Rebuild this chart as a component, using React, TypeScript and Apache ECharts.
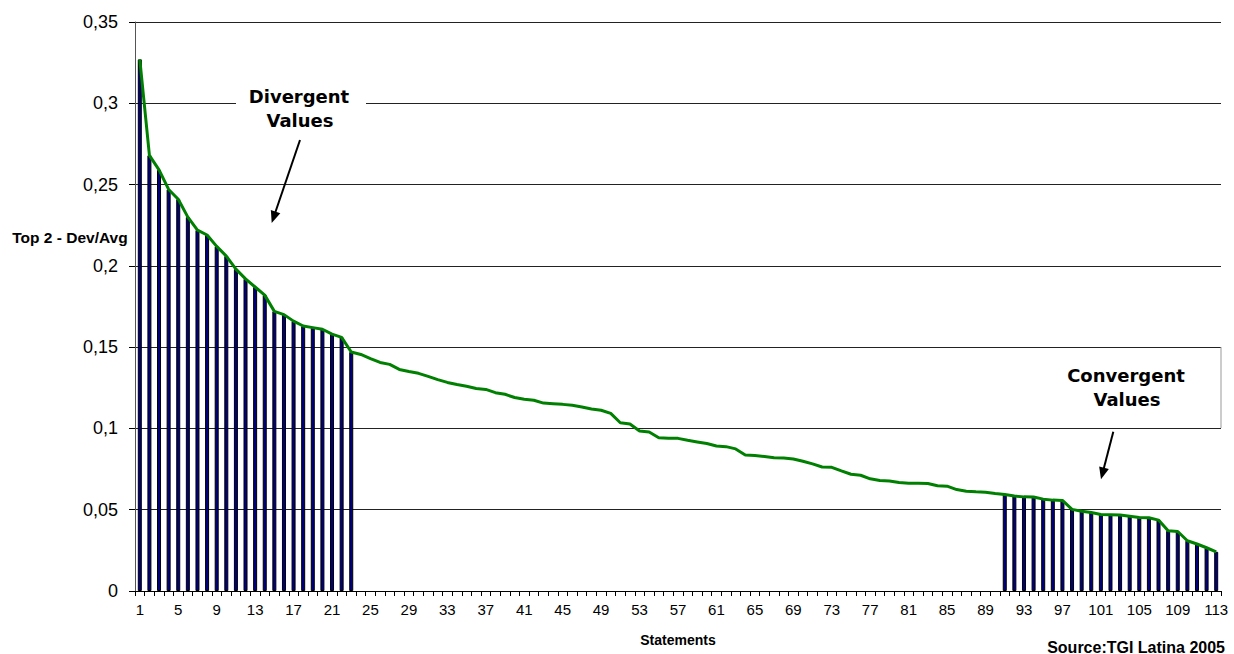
import React, { useEffect, useRef } from "react";
import * as echarts from "echarts";

// Statement numbers 1..113 (category labels)
const statements: string[] = Array.from({ length: 113 }, (_, i) => String(i + 1));

// Top 2 - Dev/Avg per statement (sorted descending)
const devAvg: number[] = [
  0.327, 0.268, 0.259, 0.247, 0.241, 0.230, 0.222, 0.219, 0.212, 0.206,
  0.198, 0.192, 0.187, 0.182, 0.172, 0.170, 0.166, 0.163, 0.162, 0.161,
  0.158, 0.156, 0.147, 0.1455, 0.143, 0.1406, 0.1394, 0.1363, 0.135, 0.1339,
  0.132, 0.130, 0.1283, 0.127, 0.1259, 0.1246, 0.124, 0.122, 0.121, 0.119,
  0.1179, 0.1173, 0.1156, 0.1152, 0.1148, 0.1142, 0.1132, 0.112, 0.1112, 0.1093,
  0.1035, 0.1027, 0.0984, 0.0978, 0.0943, 0.094, 0.0939, 0.0927, 0.0917, 0.0907,
  0.0892, 0.0888, 0.0874, 0.0837, 0.0833, 0.0827, 0.082, 0.0818, 0.0812, 0.0798,
  0.0782, 0.0763, 0.0761, 0.0739, 0.0718, 0.0712, 0.069, 0.068, 0.0677, 0.0667,
  0.0663, 0.0663, 0.0661, 0.0647, 0.0645, 0.0624, 0.0614, 0.061, 0.0608, 0.060,
  0.0594, 0.0584, 0.0579, 0.0578, 0.0565, 0.0559, 0.0557, 0.0502, 0.0491, 0.0483,
  0.0471, 0.0469, 0.0467, 0.046, 0.0452, 0.0451, 0.0436, 0.037, 0.0366, 0.0309,
  0.0289, 0.0266, 0.0241,
];

// Statements highlighted with bars
const divergentLast = 23; // statements 1..23
const convergentFirst = 91; // statements 91..113

const yTicks = { min: 0, max: 0.35, interval: 0.05 };

function arrow(tx: number, ty: number, hx: number, hy: number) {
  const dx = hx - tx;
  const dy = hy - ty;
  const len = Math.sqrt(dx * dx + dy * dy);
  const ux = dx / len;
  const uy = dy / len;
  const headLen = 12;
  const half = 5;
  const bx = hx - ux * headLen;
  const by = hy - uy * headLen;
  const px = -uy * half;
  const py = ux * half;
  return [
    {
      type: "line",
      z: 100,
      shape: { x1: tx, y1: ty, x2: bx + ux * 2, y2: by + uy * 2 },
      style: { stroke: "#000", lineWidth: 2 },
    },
    {
      type: "polygon",
      z: 100,
      shape: {
        points: [
          [hx, hy],
          [bx + px, by + py],
          [bx - px, by - py],
        ],
      },
      style: { fill: "#000" },
    },
  ];
}

export default function App() {
  const ref = useRef<HTMLDivElement>(null);
  useEffect(() => {
    if (!ref.current) return;
    const chart = echarts.init(ref.current, undefined, { renderer: "svg" });
    const barData = devAvg.map((v, i) =>
      i + 1 <= divergentLast || i + 1 >= convergentFirst ? v : null
    );
    const annFont = "DejaVu Sans";
    chart.setOption({
      animation: false,
      backgroundColor: "#fff",
      grid: { left: 135, right: 13, top: 22, bottom: 63, containLabel: false },
      xAxis: {
        type: "category",
        data: statements,
        boundaryGap: true,
        axisLine: { lineStyle: { color: "#000", width: 1 } },
        axisTick: { show: true, interval: 0, length: 5, lineStyle: { color: "#000" } },
        axisLabel: {
          interval: 3,
          color: "#000",
          fontFamily: "Liberation Sans",
          fontSize: 15,
          margin: 11,
        },
        splitLine: { show: false },
      },
      yAxis: {
        type: "value",
        min: yTicks.min,
        max: yTicks.max,
        interval: yTicks.interval,
        axisLine: { show: true, lineStyle: { color: "#555", width: 1 } },
        axisTick: { show: true, length: 6, lineStyle: { color: "#000" } },
        axisLabel: {
          color: "#000",
          fontFamily: "Liberation Sans",
          fontSize: 18,
          margin: 17,
          formatter: (v: number) => String(Number(v.toFixed(2))).replace(".", ","),
        },
        splitLine: { show: true, lineStyle: { color: "#222", width: 1 } },
      },
      series: [
        {
          type: "bar",
          data: barData,
          barWidth: 4,
          itemStyle: { color: "#000080", borderColor: "#000", borderWidth: 1 },
          z: 2,
        },
        {
          type: "line",
          data: devAvg,
          showSymbol: false,
          symbol: "none",
          lineStyle: { color: "#008000", width: 3 },
          z: 3,
        },
      ],
      graphic: [
        {
          type: "rect",
          z: 90,
          shape: { x: 236, y: 82, width: 130, height: 56 },
          style: { fill: "#fff" },
        },
        {
          type: "text",
          z: 100,
          x: 299,
          y: 96,
          style: {
            text: "Divergent",
            fontFamily: annFont,
            fontWeight: "bold",
            fontSize: 18,
            fill: "#000",
            align: "center",
            verticalAlign: "middle",
          },
        },
        {
          type: "text",
          z: 100,
          x: 300,
          y: 120,
          style: {
            text: "Values",
            fontFamily: annFont,
            fontWeight: "bold",
            fontSize: 18,
            fill: "#000",
            align: "center",
            verticalAlign: "middle",
          },
        },
        ...arrow(300, 140, 271.7, 223),
        {
          type: "text",
          z: 100,
          x: 1126,
          y: 375,
          style: {
            text: "Convergent",
            fontFamily: annFont,
            fontWeight: "bold",
            fontSize: 18,
            fill: "#000",
            align: "center",
            verticalAlign: "middle",
          },
        },
        {
          type: "text",
          z: 100,
          x: 1127,
          y: 399,
          style: {
            text: "Values",
            fontFamily: annFont,
            fontWeight: "bold",
            fontSize: 18,
            fill: "#000",
            align: "center",
            verticalAlign: "middle",
          },
        },
        ...arrow(1113.3, 431.7, 1101, 479.3),
        {
          type: "line",
          z: 100,
          shape: { x1: 1221, y1: 347, x2: 1221, y2: 428 },
          style: { stroke: "#999", lineWidth: 1 },
        },
        {
          type: "text",
          z: 100,
          x: 70,
          y: 237,
          style: {
            text: "Top 2 - Dev/Avg",
            fontFamily: "Liberation Sans",
            fontWeight: "bold",
            fontSize: 15.5,
            fill: "#000",
            align: "center",
            verticalAlign: "middle",
          },
        },
        {
          type: "text",
          z: 100,
          x: 678,
          y: 640,
          style: {
            text: "Statements",
            fontFamily: "Liberation Sans",
            fontWeight: "bold",
            fontSize: 14,
            fill: "#000",
            align: "center",
            verticalAlign: "middle",
          },
        },
        {
          type: "text",
          z: 100,
          x: 1225,
          y: 647,
          style: {
            text: "Source:TGI Latina 2005",
            fontFamily: "Liberation Sans",
            fontWeight: "bold",
            fontSize: 16,
            fill: "#000",
            align: "right",
            verticalAlign: "middle",
          },
        },
      ],
    });
    return () => chart.dispose();
  }, []);
  return (
    <div
      ref={ref}
      style={{ position: "fixed", left: 0, top: 0, width: 1234, height: 654 }}
    />
  );
}
